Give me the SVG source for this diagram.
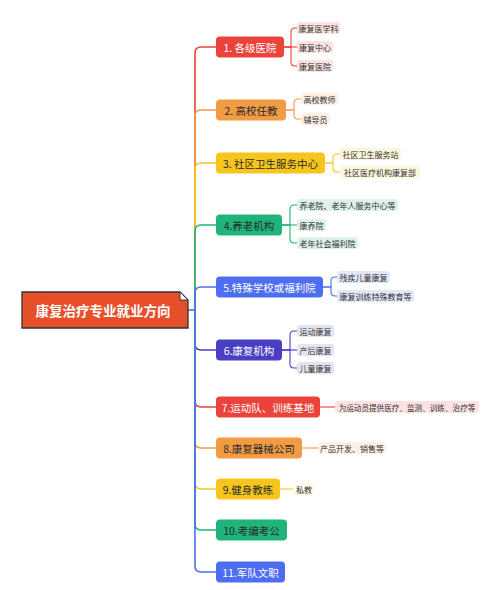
<svg xmlns="http://www.w3.org/2000/svg" width="500" height="590" viewBox="0 0 500 590">
<style>
text{font-family:"Noto Sans CJK SC","Noto Sans",sans-serif;dominant-baseline:central}
.nt{font-size:10.5px;text-anchor:middle}
.ct{font-size:8px;fill:#333;text-anchor:middle}
.w{fill:#fff}.d{fill:#2a2a2a}
.ln{fill:none;stroke-width:1.6}
.cl{fill:none;stroke-width:1.1}
.red{fill:#e9433b}.ora{fill:#f29b45}.yel{fill:#f6c51e}.grn{fill:#20b47a}.blu{fill:#4e6ef2}.pur{fill:#4a3fc2}
.pr{fill:#fbe3e1}.po{fill:#fdf0e3}.py{fill:#fdf5dc}.pg{fill:#def2e8}.pb{fill:#e3e7fa}.pp{fill:#e4e3f1}
</style>
<rect width="500" height="590" fill="#fff"/>
<g id="connectors">
<path class="ln" stroke="#4e6ef2" d="M188,310 H195"/>
<path class="ln" stroke="#e9433b" d="M195,310 V53 Q195,47 201,47 H216"/>
<path class="ln" stroke="#f29b45" d="M195,310 V116 Q195,110 201,110 H216"/>
<path class="ln" stroke="#f6c51e" d="M195,310 V169 Q195,163 201,163 H216"/>
<path class="ln" stroke="#20b47a" d="M195,310 V231 Q195,225 201,225 H216"/>
<path class="ln" stroke="#4e6ef2" d="M195,310 V293 Q195,287 201,287 H216"/>
<path class="ln" stroke="#4a3fc2" d="M195,310 V344 Q195,350 201,350 H216"/>
<path class="ln" stroke="#e9433b" d="M195,310 V401 Q195,407 201,407 H216"/>
<path class="ln" stroke="#f29b45" d="M195,310 V442 Q195,448 201,448 H216"/>
<path class="ln" stroke="#f6c51e" d="M195,310 V483 Q195,489 201,489 H216"/>
<path class="ln" stroke="#20b47a" d="M195,310 V524 Q195,530 201,530 H216"/>
<path class="ln" stroke="#4e6ef2" d="M195,310 V566 Q195,572 201,572 H216"/>
<g stroke="#e9433b" class="cl">
<path d="M284,47 H291 V32 Q291,28 295,28 H297"/>
<path d="M284,47 H297"/>
<path d="M284,47 H291 V62 Q291,66 295,66 H297"/>
</g>
<g stroke="#f29b45" class="cl">
<path d="M286,110 H294 V103 Q294,99 298,99 H301"/>
<path d="M286,110 H294 V115 Q294,119 298,119 H301"/>
</g>
<g stroke="#f6c51e" class="cl">
<path d="M325,163 H333 V158 Q333,154 337,154 H340"/>
<path d="M325,163 H333 V168 Q333,172 337,172 H340"/>
</g>
<g stroke="#20b47a" class="cl">
<path d="M282,225 H290 V209 Q290,205 294,205 H297"/>
<path d="M282,225 H297"/>
<path d="M282,225 H290 V239 Q290,243 294,243 H297"/>
</g>
<g stroke="#4e6ef2" class="cl">
<path d="M323,287 H331 V281 Q331,277 335,277 H337"/>
<path d="M323,287 H331 V292 Q331,296 335,296 H337"/>
</g>
<g stroke="#4a3fc2" class="cl">
<path d="M282,350 H290 V335 Q290,331 294,331 H297"/>
<path d="M282,350 H297"/>
<path d="M282,350 H290 V364 Q290,368 294,368 H297"/>
</g>
<path class="cl" stroke="#e9433b" d="M320,407 H335"/>
<path class="cl" stroke="#f29b45" d="M302,448 H318"/>
<path class="cl" stroke="#f6c51e" d="M280,489 H293"/>
</g>
<g id="root">
<path d="M22,292 H180 L188,300 V328 H22 Z" fill="#e5502b" stroke="#333" stroke-width="1.3"/>
<path d="M180,292 V300 H188 Z" fill="#fff" stroke="#333" stroke-width="1"/>
<text x="103" y="310" font-size="13.5" font-weight="bold" fill="#fff" text-anchor="middle">康复治疗专业就业方向</text>
</g>
<g id="n1">
<rect class="red" x="216" y="36.5" width="68" height="21" rx="4"/>
<text class="nt w" x="250" y="47">1. 各级医院</text>
<rect class="pr" x="297" y="22" width="43" height="12" rx="3"/><text class="ct" x="318.5" y="28">康复医学科</text>
<rect class="pr" x="297" y="41" width="36" height="12" rx="3"/><text class="ct" x="315" y="47">康复中心</text>
<rect class="pr" x="297" y="60" width="36" height="12" rx="3"/><text class="ct" x="315" y="66">康复医院</text>
</g>
<g id="n2">
<rect class="ora" x="216" y="99.5" width="70" height="21" rx="4"/>
<text class="nt d" x="251" y="110">2. 高校任教</text>
<rect class="po" x="301" y="93" width="37" height="12" rx="3"/><text class="ct" x="319.5" y="99">高校教师</text>
<rect class="po" x="301" y="113" width="29" height="12" rx="3"/><text class="ct" x="315.5" y="119">辅导员</text>
</g>
<g id="n3">
<rect class="yel" x="216" y="152.5" width="109" height="21" rx="4"/>
<text class="nt d" x="270.5" y="163">3. 社区卫生服务中心</text>
<rect class="py" x="340" y="148" width="61" height="12" rx="3"/><text class="ct" x="370.5" y="154">社区卫生服务站</text>
<rect class="py" x="340" y="166" width="80" height="12" rx="3"/><text class="ct" x="380" y="172">社区医疗机构康复部</text>
</g>
<g id="n4">
<rect class="grn" x="216" y="214.5" width="66" height="21" rx="4"/>
<text class="nt d" x="249" y="225">4.养老机构</text>
<rect class="pg" x="297" y="199" width="101" height="12" rx="3"/><text class="ct" x="347.5" y="205">养老院、老年人服务中心等</text>
<rect class="pg" x="297" y="219" width="29" height="12" rx="3"/><text class="ct" x="311.5" y="225">康养院</text>
<rect class="pg" x="297" y="237" width="61" height="12" rx="3"/><text class="ct" x="327.5" y="243">老年社会福利院</text>
</g>
<g id="n5">
<rect class="blu" x="216" y="276.5" width="107" height="21" rx="4"/>
<text class="nt w" x="269.5" y="287">5.特殊学校或福利院</text>
<rect class="pb" x="337" y="271" width="53" height="12" rx="3"/><text class="ct" x="363.5" y="277">残疾儿童康复</text>
<rect class="pb" x="337" y="290" width="77" height="12" rx="3"/><text class="ct" x="375.5" y="296">康复训练特殊教育等</text>
</g>
<g id="n6">
<rect class="pur" x="216" y="339.5" width="66" height="21" rx="4"/>
<text class="nt w" x="249" y="350">6.康复机构</text>
<rect class="pp" x="297" y="325" width="37" height="12" rx="3"/><text class="ct" x="315.5" y="331">运动康复</text>
<rect class="pp" x="297" y="344" width="37" height="12" rx="3"/><text class="ct" x="315.5" y="350">产后康复</text>
<rect class="pp" x="297" y="362" width="37" height="12" rx="3"/><text class="ct" x="315.5" y="368">儿童康复</text>
</g>
<g id="n7">
<rect class="red" x="216" y="396.5" width="104" height="21" rx="4"/>
<text class="nt w" x="268" y="407">7.运动队、训练基地</text>
<rect class="pr" x="335" y="401" width="144" height="12" rx="3"/><text class="ct" x="407" y="407" style="font-size:7.6px">为运动员提供医疗、监测、训练、治疗等</text>
</g>
<g id="n8">
<rect class="ora" x="216" y="437.5" width="86" height="21" rx="4"/>
<text class="nt d" x="259" y="448">8.康复器械公司</text>
<rect class="po" x="318" y="442" width="68" height="12" rx="3"/><text class="ct" x="352" y="448">产品开发、销售等</text>
</g>
<g id="n9">
<rect class="yel" x="216" y="478.5" width="64" height="21" rx="4"/>
<text class="nt d" x="248" y="489">9.健身教练</text>
<rect fill="#fefaea" x="293" y="483" width="22" height="12" rx="3"/><text class="ct" x="304" y="489">私教</text>
</g>
<g id="n10">
<rect class="grn" x="216" y="519.5" width="71" height="21" rx="4"/>
<text class="nt d" x="251.5" y="530">10.考编考公</text>
</g>
<g id="n11">
<rect class="blu" x="216" y="561.5" width="69" height="21" rx="4"/>
<text class="nt w" x="250.5" y="572">11.军队文职</text>
</g>
</svg>
